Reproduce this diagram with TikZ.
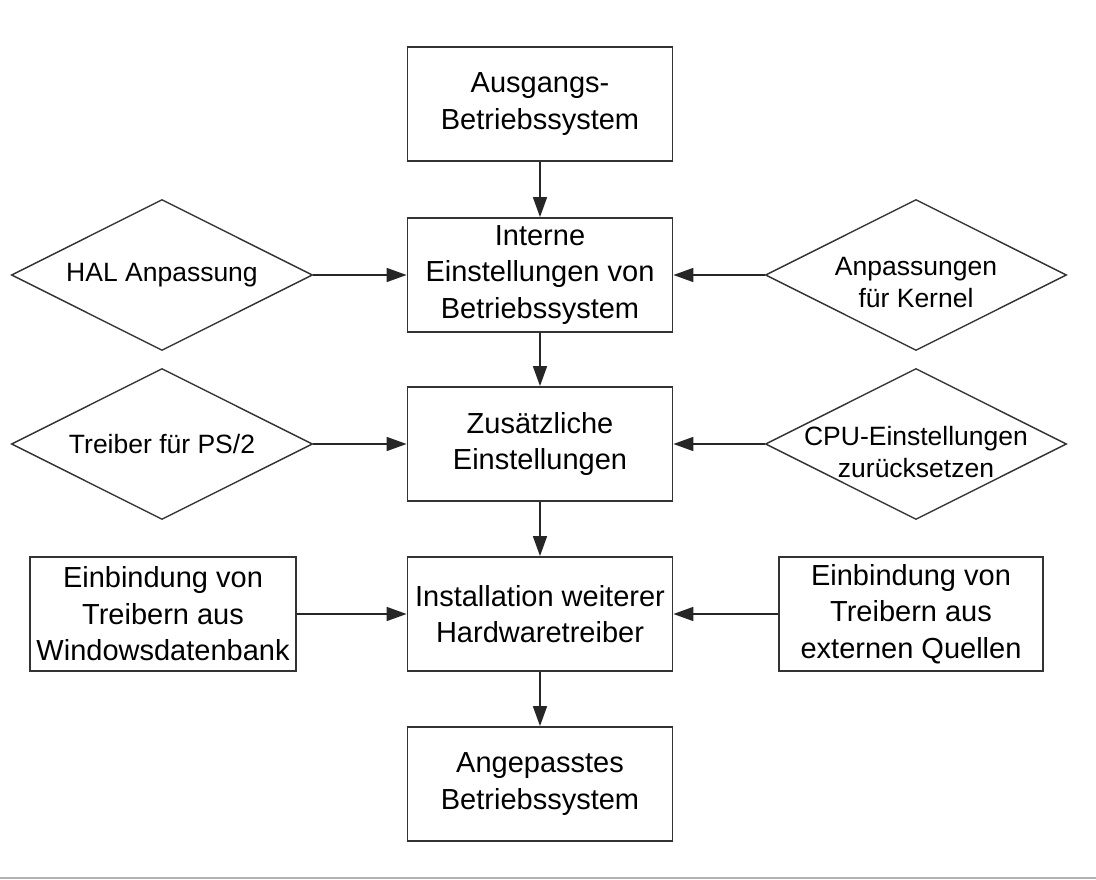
\documentclass[tikz,border=0pt]{standalone}
\usepackage{fontspec}
\setmainfont{Liberation Sans}
\usetikzlibrary{shapes.geometric,arrows.meta}
\begin{document}
\begin{tikzpicture}
  [x=1pt,y=-1pt,
   box/.style={draw=black!80,line width=1.8pt,minimum width=265pt,minimum height=114pt,inner sep=0pt,align=center,font=\fontsize{29}{36.5}\selectfont},
   dia/.style={draw=black!80,line width=1.4pt,diamond,minimum width=301pt,minimum height=151pt,inner sep=0pt},
   dtext/.style={align=center,font=\fontsize{26.5}{32}\selectfont},
   arr/.style={-{Triangle[length=20pt,width=14pt]},line width=1.6pt,black!85}]
  \useasboundingbox (0,0) rectangle (1096,880);
  \draw[black!30,line width=2pt] (0,878) -- (1096,878);

  \node[box] (start) at (540,104) {Ausgangs-\\Betriebssystem};
  \node[box] (intern) at (540,275) {Interne\\Einstellungen von\\Betriebssystem};
  \node[box] (extra) at (540,444) {Zusätzliche\\Einstellungen};
  \node[box] (install) at (540,614) {Installation weiterer\\Hardwaretreiber};
  \node[box] (final) at (540,784) {Angepasstes\\Betriebssystem};

  \node[dia,label={[dtext]center:HAL Anpassung}] (hal) at (162,275) {};
  \node[dia,label={[dtext]center:Treiber für PS/2}] (ps2) at (162,444) {};
  \node[dia,label={[dtext,yshift=-8pt]center:Anpassungen\\für Kernel}] (kern) at (916,275) {};
  \node[dia,label={[dtext,yshift=-8pt]center:CPU-Einstellungen\\zurücksetzen}] (cpu) at (916,444) {};
  \node[box,minimum width=266pt] (windb) at (163,614) {Einbindung von\\Treibern aus\\Windowsdatenbank};
  \node[box,minimum width=264pt] (extdrv) at (911,614) {Einbindung von\\Treibern aus\\externen Quellen};

  \foreach \from/\to in {start/intern,intern/extra,extra/install,install/final,hal/intern,ps2/extra,kern/intern,cpu/extra,windb/install,extdrv/install}
    \draw[arr] (\from) -- (\to);

\end{tikzpicture}
\end{document}
